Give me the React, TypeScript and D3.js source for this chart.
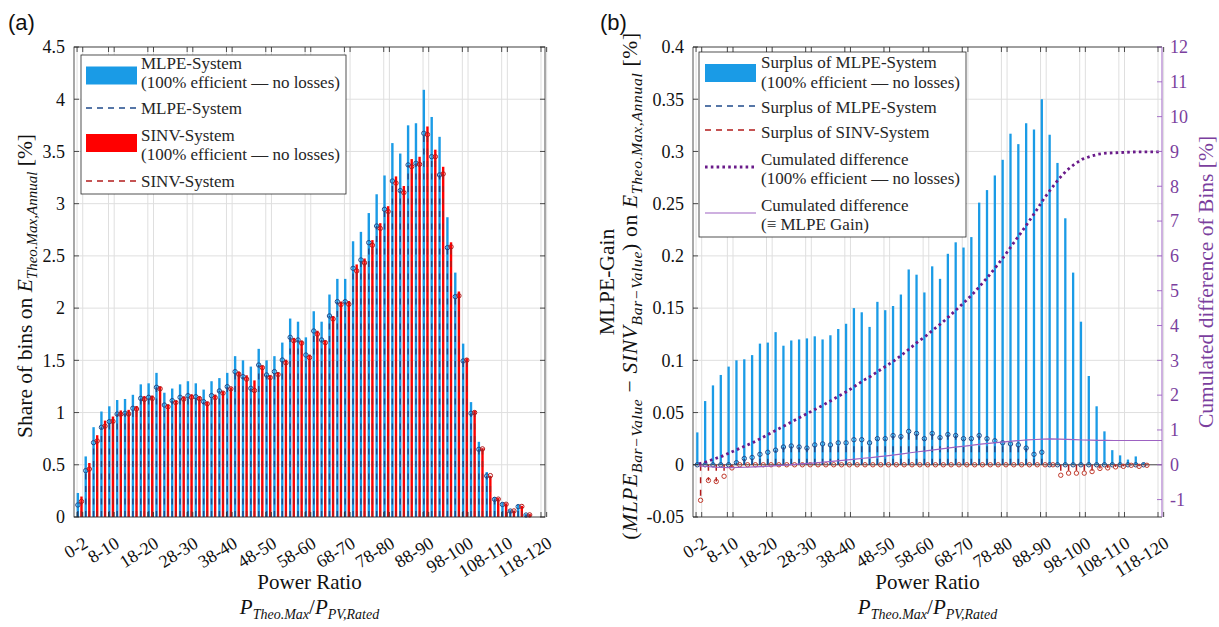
import React from "react";
import * as d3 from "d3";

// 60 bins of P_Theo.Max / P_PV,Rated, each 2 % wide (0-2 ... 118-120)
const binCount = 60;
const tickBins = [0, 4, 9, 14, 19, 24, 29, 34, 39, 44, 49, 54, 59];
const tickLabels = ["0-2", "8-10", "18-20", "28-30", "38-40", "48-50", "58-60", "68-70", "78-80", "88-90", "98-100", "108-110", "118-120"];

// (a) share of bins on E_Theo.Max,Annual [%]
const mlpe100 = [0.23, 0.58, 0.86, 1.01, 1.06, 1.12, 1.13, 1.17, 1.27, 1.28, 1.38, 1.19, 1.23, 1.27, 1.3, 1.28, 1.22, 1.3, 1.33, 1.38, 1.54, 1.5, 1.44, 1.61, 1.5, 1.54, 1.67, 1.9, 1.87, 1.72, 1.97, 1.87, 2.13, 2.28, 2.28, 2.64, 2.73, 2.91, 3.09, 3.27, 3.58, 3.48, 3.75, 3.77, 4.09, 3.83, 3.64, 2.87, 2.34, 1.66, 1.1, 0.72, 0.43, 0.19, 0.14, 0.07, 0.12, 0.03, null, null];
const mlpe = [0.115, 0.444, 0.712, 0.859, 0.913, 0.986, 0.993, 1.041, 1.136, 1.146, 1.242, 1.072, 1.114, 1.146, 1.162, 1.152, 1.104, 1.162, 1.207, 1.248, 1.392, 1.344, 1.232, 1.455, 1.36, 1.392, 1.503, 1.72, 1.695, 1.551, 1.781, 1.695, 1.925, 2.062, 2.062, 2.381, 2.461, 2.627, 2.786, 2.946, 3.217, 3.125, 3.371, 3.387, 3.674, 3.45, 3.275, 2.579, 2.11, 1.494, 0.993, 0.648, 0.393, 0.169, 0.12, 0.057, 0.099, 0.019, null, null];
const sinv100 = [0.196, 0.517, 0.783, 0.923, 0.962, 1.02, 1.026, 1.063, 1.158, 1.163, 1.249, 1.077, 1.113, 1.154, 1.175, 1.157, 1.102, 1.172, 1.204, 1.241, 1.392, 1.357, 1.308, 1.45, 1.355, 1.383, 1.506, 1.715, 1.688, 1.555, 1.783, 1.692, 1.924, 2.063, 2.068, 2.418, 2.475, 2.651, 2.813, 2.976, 3.261, 3.169, 3.427, 3.449, 3.739, 3.517, 3.353, 2.63, 2.159, 1.52, 1.019, 0.659, 0.393, 0.181, 0.131, 0.062, 0.107, 0.028, null, null];
const sinv = [0.149, 0.459, 0.728, 0.87, 0.916, 0.984, 0.987, 1.034, 1.126, 1.134, 1.228, 1.055, 1.096, 1.129, 1.146, 1.133, 1.084, 1.143, 1.186, 1.227, 1.368, 1.32, 1.211, 1.43, 1.335, 1.364, 1.476, 1.688, 1.665, 1.526, 1.751, 1.669, 1.896, 2.034, 2.037, 2.356, 2.433, 2.602, 2.763, 2.925, 3.197, 3.106, 3.355, 3.377, 3.662, 3.45, 3.285, 2.587, 2.118, 1.502, 1.0, 0.652, 0.396, 0.171, 0.122, 0.058, 0.101, 0.02, null, null];

// (b) MLPE gain per bin [%] and cumulated difference [%]
const surplus100 = [0.031, 0.061, 0.076, 0.086, 0.094, 0.1, 0.101, 0.105, 0.116, 0.117, 0.127, 0.114, 0.119, 0.12, 0.121, 0.123, 0.12, 0.124, 0.13, 0.135, 0.15, 0.146, 0.132, 0.156, 0.148, 0.152, 0.163, 0.187, 0.182, 0.165, 0.19, 0.178, 0.202, 0.213, 0.208, 0.218, 0.251, 0.263, 0.277, 0.292, 0.317, 0.307, 0.327, 0.321, 0.35, 0.316, 0.289, 0.236, 0.184, 0.137, 0.085, 0.056, 0.032, 0.014, 0.009, 0.005, 0.008, 0.002, null, null];
const surplusMlpe = [0, 0, 0, 0, 0, 0.002, 0.006, 0.007, 0.01, 0.012, 0.014, 0.017, 0.018, 0.017, 0.016, 0.019, 0.02, 0.019, 0.021, 0.021, 0.024, 0.024, 0.021, 0.025, 0.025, 0.028, 0.027, 0.032, 0.03, 0.025, 0.03, 0.026, 0.029, 0.028, 0.025, 0.025, 0.028, 0.025, 0.023, 0.021, 0.02, 0.019, 0.016, 0.01, 0.012, 0, 0, 0, 0, 0, 0, 0, 0, 0, 0, 0, 0, 0, null, null];
const surplusSinv = [-0.034, -0.015, -0.016, -0.011, -0.003, 0, 0, 0, 0, 0, 0, 0, 0, 0, 0, 0, 0, 0, 0, 0, 0, 0, 0, 0, 0, 0, 0, 0, 0, 0, 0, 0, 0, 0, 0, 0, 0, 0, 0, 0, 0, 0, 0, 0, 0, 0, -0.01, -0.008, -0.008, -0.008, -0.0065, -0.0035, -0.003, -0.002, -0.0015, -0.0005, -0.0015, -0.0005, null, null];
const cumDiff100 = [0.03, 0.09, 0.17, 0.25, 0.35, 0.45, 0.55, 0.65, 0.77, 0.89, 1.01, 1.13, 1.25, 1.37, 1.49, 1.61, 1.73, 1.86, 1.99, 2.12, 2.27, 2.42, 2.55, 2.7, 2.85, 3.0, 3.17, 3.35, 3.54, 3.7, 3.89, 4.07, 4.27, 4.48, 4.69, 4.91, 5.16, 5.42, 5.7, 5.99, 6.31, 6.62, 6.94, 7.27, 7.62, 7.93, 8.22, 8.46, 8.64, 8.78, 8.86, 8.92, 8.95, 8.96, 8.97, 8.98, 8.99, 8.99, 8.99, 8.99];
const cumGain = [-0.034, -0.049, -0.065, -0.076, -0.079, -0.077, -0.071, -0.063, -0.053, -0.041, -0.027, -0.011, 0.007, 0.024, 0.04, 0.059, 0.079, 0.098, 0.119, 0.139, 0.163, 0.187, 0.208, 0.233, 0.258, 0.286, 0.314, 0.346, 0.375, 0.4, 0.43, 0.456, 0.485, 0.513, 0.538, 0.563, 0.591, 0.615, 0.638, 0.659, 0.679, 0.697, 0.713, 0.726, 0.738, 0.745, 0.735, 0.727, 0.72, 0.712, 0.706, 0.703, 0.7, 0.698, 0.698, 0.698, 0.698, 0.698, 0.698, 0.698];

const serif = "'Liberation Serif', 'Times New Roman', serif";
const ink = "#262626";
const gridCol = "#dfdfdf";
const lightBlue = "#1a9be6";
const red = "#ff0000";
const darkBlue = "#1f4a8a";
const darkRed = "#b31b1b";
const purpleDot = "#6a1b8a";
const purpleLine = "#9d62c2";
const purpleAxis = "#7b3f9e";

const xDomain = [-0.75, 59.15];
const top = 47;
const bottom = 517;
const blueOff = -0.26;
const redOff = 0.2;
const dash = "6 6.5";
const tickFont = 18;
const bins = d3.range(binCount);

const fmt = (t: number) => String(+t.toFixed(2));

function Sub({ children, size = 15 }: { children: React.ReactNode; size?: number }) {
  return (
    <tspan fontSize={size} dy={5} fontStyle="italic">
      {children}
    </tspan>
  );
}

function XAxis({ x, left, right }: { x: d3.ScaleLinear<number, number>; left: number; right: number }) {
  const cx = (left + right) / 2;
  return (
    <g>
      {tickBins.map((b, k) => (
        <g key={k}>
          {[b - 0.36, b + 0.36].map((v, j) => (
            <line key={j} x1={x(v)} x2={x(v)} y1={top} y2={bottom} stroke={gridCol} strokeWidth={1} />
          ))}
        </g>
      ))}
      {tickBins.map((b, k) => (
        <text
          key={"l" + k}
          transform={`translate(${x(b) + 6},${541}) rotate(-32)`}
          textAnchor="end"
          dy="0.35em"
          fontSize={tickFont}
        >
          {tickLabels[k]}
        </text>
      ))}
      <text x={cx} y={589} textAnchor="middle" fontSize={21}>
        Power Ratio
      </text>
      <text x={cx} y={614} textAnchor="middle" fontSize={21}>
        <tspan fontStyle="italic">P</tspan>
        <Sub size={14}>Theo.Max</Sub>
        <tspan dy={-5}>/</tspan>
        <tspan fontStyle="italic">P</tspan>
        <Sub size={14}>PV,Rated</Sub>
      </text>
    </g>
  );
}

function XTicks({ x }: { x: d3.ScaleLinear<number, number> }) {
  return (
    <g>
      {tickBins.map((b, k) =>
        [b - 0.36, b + 0.36].map((v, j) => (
          <g key={k + "-" + j}>
            <line x1={x(v)} x2={x(v)} y1={bottom} y2={bottom - 5} stroke={ink} strokeWidth={0.8} />
            <line x1={x(v)} x2={x(v)} y1={top} y2={top + 5} stroke={ink} strokeWidth={0.8} />
          </g>
        ))
      )}
    </g>
  );
}

type Item = { kind: "patch" | "dash" | "dot" | "line"; color: string; lines: React.ReactNode[]; sy: number; ty: number[] };

function Legend({ x0, y0, w, h, sx, tx, items }: { x0: number; y0: number; w: number; h: number; sx: [number, number]; tx: number; items: Item[] }) {
  return (
    <g>
      <rect x={x0} y={y0} width={w} height={h} fill="#fff" stroke={ink} strokeWidth={0.8} />
      {items.map((it, i) => (
        <g key={i}>
          {it.kind === "patch" && <rect x={sx[0]} y={it.sy - 9} width={sx[1] - sx[0]} height={18} fill={it.color} />}
          {it.kind === "dash" && <line x1={sx[0]} x2={sx[1]} y1={it.sy} y2={it.sy} stroke={it.color} strokeWidth={1.5} strokeDasharray="6 5" />}
          {it.kind === "dot" && <line x1={sx[0]} x2={sx[1]} y1={it.sy} y2={it.sy} stroke={it.color} strokeWidth={2.8} strokeDasharray="2.6 3.2" />}
          {it.kind === "line" && <line x1={sx[0]} x2={sx[1]} y1={it.sy} y2={it.sy} stroke={it.color} strokeWidth={1.2} />}
          {it.lines.map((l, j) => (
            <text key={j} x={tx} y={it.ty[j]} fontSize={17} fill={ink}>
              {l}
            </text>
          ))}
        </g>
      ))}
    </g>
  );
}

function PanelA() {
  const left = 74;
  const right = 545;
  const x = d3.scaleLinear().domain(xDomain).range([left, right]);
  const y = d3.scaleLinear().domain([0, 4.5]).range([bottom, top]);
  const yTicks = d3.range(0, 10).map((i) => i * 0.5);
  const bw = 2.4;

  return (
    <g>
      {yTicks.map((t) => (
        <line key={t} x1={left} x2={right} y1={y(t)} y2={y(t)} stroke={gridCol} strokeWidth={1} />
      ))}
      <XAxis x={x} left={left} right={right} />
      {bins.map((i) =>
        mlpe100[i] == null ? null : (
          <rect key={"b" + i} x={x(i + blueOff) - bw / 2} y={y(mlpe100[i] as number)} width={bw} height={y(0) - y(mlpe100[i] as number)} fill={lightBlue} />
        )
      )}
      {bins.map((i) =>
        sinv100[i] == null ? null : (
          <rect key={"r" + i} x={x(i + redOff) - bw / 2} y={y(sinv100[i] as number)} width={bw} height={y(0) - y(sinv100[i] as number)} fill={red} />
        )
      )}
      {bins.map((i) =>
        mlpe[i] == null ? null : (
          <g key={"m" + i}>
            <line x1={x(i + blueOff)} x2={x(i + blueOff)} y1={y(0)} y2={y(mlpe[i] as number)} stroke={darkBlue} strokeWidth={1.5} strokeDasharray={dash} />
            <circle cx={x(i + blueOff)} cy={y(mlpe[i] as number)} r={2.2} fill="none" stroke={darkBlue} strokeWidth={1} />
          </g>
        )
      )}
      {bins.map((i) =>
        sinv[i] == null ? null : (
          <g key={"s" + i}>
            <line x1={x(i + redOff)} x2={x(i + redOff)} y1={y(0)} y2={y(sinv[i] as number)} stroke={darkRed} strokeWidth={1.5} strokeDasharray={dash} />
            <circle cx={x(i + redOff)} cy={y(sinv[i] as number)} r={2.2} fill="none" stroke={darkRed} strokeWidth={1} />
          </g>
        )
      )}
      <XTicks x={x} />
      {yTicks.map((t) => (
        <g key={"t" + t}>
          <line x1={left} x2={left + 5} y1={y(t)} y2={y(t)} stroke={ink} strokeWidth={0.8} />
          <line x1={right} x2={right - 5} y1={y(t)} y2={y(t)} stroke={ink} strokeWidth={0.8} />
          <text x={left - 9} y={y(t)} dy="0.35em" textAnchor="end" fontSize={tickFont}>
            {fmt(t)}
          </text>
        </g>
      ))}
      <rect x={left} y={top} width={right - left} height={bottom - top} fill="none" stroke={ink} strokeWidth={0.8} />
      <text transform={`translate(32,${(top + bottom) / 2 + 4}) rotate(-90)`} textAnchor="middle" fontSize={21.5}>
        Share of bins on <tspan fontStyle="italic">E</tspan>
        <Sub>Theo.Max,Annual</Sub>
        <tspan dy={-5}> [%]</tspan>
      </text>
      <Legend
        x0={81}
        y0={55}
        w={265}
        h={139}
        sx={[86, 137]}
        tx={141}
        items={[
          { kind: "patch", color: lightBlue, sy: 75.5, ty: [69, 88], lines: ["MLPE-System", "(100% efficient — no losses)"] },
          { kind: "dash", color: darkBlue, sy: 108, ty: [114], lines: ["MLPE-System"] },
          { kind: "patch", color: red, sy: 143, ty: [141, 160], lines: ["SINV-System", "(100% efficient — no losses)"] },
          { kind: "dash", color: darkRed, sy: 181, ty: [187], lines: ["SINV-System"] },
        ]}
      />
      <text x={8} y={30} fontSize={22} fontFamily="'Liberation Sans', Arial, sans-serif">
        (a)
      </text>
    </g>
  );
}

function PanelB() {
  const left = 693;
  const right = 1162;
  const x = d3.scaleLinear().domain(xDomain).range([left, right]);
  const y = d3.scaleLinear().domain([-0.05, 0.4]).range([bottom, top]);
  const yR = d3.scaleLinear().domain([-1.5, 12]).range([bottom, top]);
  const yTicks = d3.range(-1, 9).map((i) => i * 0.05);
  const rTicks = d3.range(-1, 13);
  const bw = 2.3;
  const bOff = -0.2;
  const rOff = 0.22;

  const lineGen = d3
    .line<[number, number]>()
    .x((d) => x(d[0]))
    .y((d) => yR(d[1]));
  const dotPts: [number, number][] = bins.map((i) => [i, cumDiff100[i]]);
  dotPts.push([xDomain[1], cumDiff100[binCount - 1]]);
  const gainPts: [number, number][] = bins.map((i) => [i, cumGain[i]]);
  gainPts.push([xDomain[1], cumGain[binCount - 1]]);

  return (
    <g>
      {yTicks.map((t, k) => (
        <line key={k} x1={left} x2={right} y1={y(t)} y2={y(t)} stroke={gridCol} strokeWidth={1} />
      ))}
      <XAxis x={x} left={left} right={right} />
      {bins.map((i) =>
        surplus100[i] == null ? null : (
          <rect key={"b" + i} x={x(i + bOff) - bw / 2} y={y(surplus100[i] as number)} width={bw} height={y(0) - y(surplus100[i] as number)} fill={lightBlue} />
        )
      )}
      <line x1={left} x2={right} y1={y(0)} y2={y(0)} stroke={ink} strokeWidth={0.8} />
      {bins.map((i) =>
        surplusMlpe[i] == null ? null : (
          <g key={"m" + i}>
            <line x1={x(i + bOff)} x2={x(i + bOff)} y1={y(0)} y2={y(surplusMlpe[i] as number)} stroke={darkBlue} strokeWidth={1.5} strokeDasharray={dash} />
            <circle cx={x(i + bOff)} cy={y(surplusMlpe[i] as number)} r={2.2} fill="none" stroke={darkBlue} strokeWidth={1} />
          </g>
        )
      )}
      {bins.map((i) =>
        surplusSinv[i] == null ? null : (
          <g key={"s" + i}>
            <line x1={x(i + rOff)} x2={x(i + rOff)} y1={y(0)} y2={y(surplusSinv[i] as number)} stroke={darkRed} strokeWidth={1.5} strokeDasharray={dash} />
            <circle cx={x(i + rOff)} cy={y(surplusSinv[i] as number)} r={2.2} fill="none" stroke="#c0392b" strokeWidth={1} />
          </g>
        )
      )}
      <path d={lineGen(gainPts) || ""} fill="none" stroke={purpleLine} strokeWidth={1.2} />
      <path d={lineGen(dotPts) || ""} fill="none" stroke={purpleDot} strokeWidth={2.8} strokeDasharray="2.6 3.2" />
      <XTicks x={x} />
      {yTicks.map((t, k) => (
        <g key={"t" + k}>
          <line x1={left} x2={left + 5} y1={y(t)} y2={y(t)} stroke={ink} strokeWidth={0.8} />
          <text x={left - 9} y={y(t)} dy="0.35em" textAnchor="end" fontSize={tickFont}>
            {fmt(t)}
          </text>
        </g>
      ))}
      {rTicks.map((t) => (
        <g key={"r" + t}>
          <line x1={right} x2={right - 5} y1={yR(t)} y2={yR(t)} stroke={purpleLine} strokeWidth={0.9} />
          <text x={right + 8} y={yR(t)} dy="0.35em" fontSize={tickFont} fill={purpleAxis}>
            {t}
          </text>
        </g>
      ))}
      <line x1={left} x2={right} y1={top} y2={top} stroke={ink} strokeWidth={0.8} />
      <line x1={left} x2={right} y1={bottom} y2={bottom} stroke={ink} strokeWidth={0.8} />
      <line x1={left} x2={left} y1={top} y2={bottom} stroke={ink} strokeWidth={0.8} />
      <line x1={right} x2={right} y1={top} y2={bottom} stroke={purpleLine} strokeWidth={1} />
      <text transform={`translate(614,${(top + bottom) / 2}) rotate(-90)`} textAnchor="middle" fontSize={21.5}>
        MLPE-Gain
      </text>
      <text transform={`translate(637,${(top + bottom) / 2 + 4}) rotate(-90)`} textAnchor="middle" fontSize={21.5} letterSpacing={0.7}>
        (<tspan fontStyle="italic">MLPE</tspan>
        <Sub size={15.5}>Bar−Value</Sub>
        <tspan dy={-5}> − </tspan>
        <tspan fontStyle="italic">SINV</tspan>
        <Sub size={15.5}>Bar−Value</Sub>
        <tspan dy={-5}>) on </tspan>
        <tspan fontStyle="italic">E</tspan>
        <Sub size={15.5}>Theo.Max,Annual</Sub>
        <tspan dy={-5}> [%]</tspan>
      </text>
      <text transform={`translate(1213,${(top + bottom) / 2}) rotate(-90)`} textAnchor="middle" fontSize={21.5} fill={purpleAxis}>
        Cumulated difference of Bins [%]
      </text>
      <Legend
        x0={699}
        y0={52}
        w={267}
        h={185}
        sx={[705, 756]}
        tx={761}
        items={[
          { kind: "patch", color: lightBlue, sy: 73, ty: [68, 88], lines: ["Surplus of MLPE-System", "(100% efficient — no losses)"] },
          { kind: "dash", color: darkBlue, sy: 106, ty: [113], lines: ["Surplus of MLPE-System"] },
          { kind: "dash", color: darkRed, sy: 130, ty: [138], lines: ["Surplus of SINV-System"] },
          { kind: "dot", color: purpleDot, sy: 167, ty: [165, 184], lines: ["Cumulated difference", "(100% efficient — no losses)"] },
          { kind: "line", color: purpleLine, sy: 213, ty: [211, 230], lines: ["Cumulated difference", "(≡ MLPE Gain)"] },
        ]}
      />
      <text x={600} y={30} fontSize={22} fontFamily="'Liberation Sans', Arial, sans-serif">
        (b)
      </text>
    </g>
  );
}

export default function App() {
  return (
    <svg
      width={1219}
      height={627}
      viewBox="0 0 1219 627"
      style={{ position: "absolute", left: 0, top: 0, background: "#fff" }}
      fontFamily={serif}
      fill="#111"
    >
      <rect width={1219} height={627} fill="#fff" />
      <PanelA />
      <PanelB />
    </svg>
  );
}
